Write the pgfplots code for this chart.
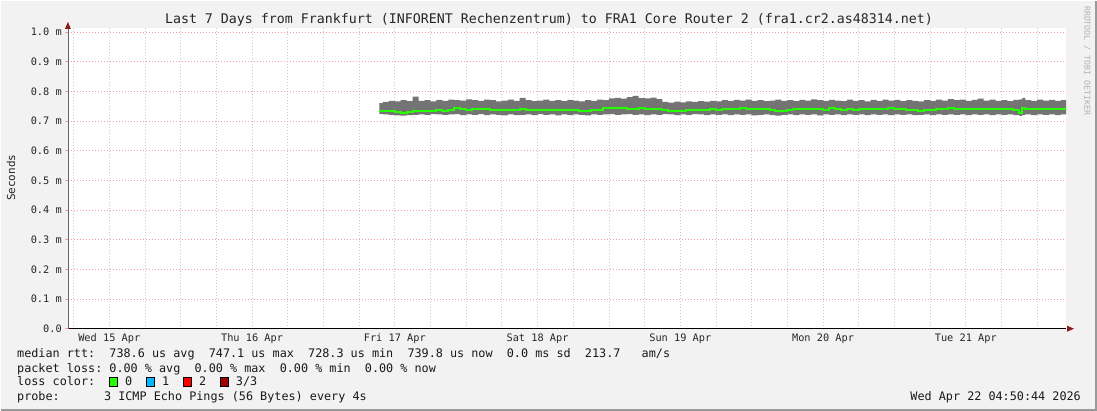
\documentclass[border=0pt]{standalone}
\usepackage{pgfplots}
\pgfplotsset{compat=1.18}
\usepgfplotslibrary{fillbetween}
\usepackage{pgfplotstable}
\usepackage{fontspec}
\setmainfont{DejaVu Sans Mono}
\newfontfamily\mono{DejaVu Sans Mono}
\definecolor{bg}{HTML}{F2F2F2}
\definecolor{smoke}{HTML}{747474}
\definecolor{med}{HTML}{26FF00}
\definecolor{mgrid}{HTML}{F2A0A0}
\definecolor{ggrid}{HTML}{C8C8C8}
\definecolor{arrowc}{HTML}{8B1A1A}
\definecolor{lblue}{HTML}{00B8FF}
\definecolor{lred}{HTML}{FF0000}
\definecolor{ldark}{HTML}{A00000}
\pgfplotstableread{
h u l m
33.4 .760 .724 .735
34 .764 .722 .734
35 .768 .721 .734
36 .766 .719 .729
37 .770 .718 .728
38 .767 .720 .731
39 .782 .721 .733
40 .768 .722 .735
41 .770 .721 .735
42 .766 .723 .735
43 .771 .722 .736
44 .768 .721 .735
45 .772 .722 .736
46 .770 .723 .744
47 .769 .720 .740
48 .773 .722 .738
49 .770 .721 .741
50 .768 .723 .739
51 .772 .720 .740
52 .770 .722 .738
53 .766 .721 .737
54 .769 .719 .738
55 .772 .722 .736
56 .768 .720 .737
57 .778 .721 .739
58 .770 .722 .737
59 .767 .720 .736
60 .769 .723 .737
61 .772 .721 .738
62 .768 .722 .736
63 .770 .719 .737
64 .767 .722 .738
65 .771 .720 .736
66 .769 .722 .737
67 .766 .721 .734
68 .770 .719 .732
69 .768 .722 .736
70 .772 .721 .738
71 .770 .722 .744
72 .776 .723 .745
73 .778 .721 .744
74 .775 .722 .745
75 .780 .723 .742
76 .785 .721 .741
77 .777 .722 .743
78 .776 .720 .740
79 .779 .722 .741
80 .774 .721 .739
81 .764 .723 .736
82 .762 .722 .735
83 .765 .720 .733
84 .763 .722 .734
85 .766 .721 .737
86 .764 .723 .738
87 .767 .722 .737
88 .765 .720 .738
89 .768 .722 .739
90 .766 .721 .738
91 .770 .722 .739
92 .768 .720 .740
93 .771 .722 .739
94 .769 .721 .743
95 .772 .722 .740
96 .768 .719 .739
97 .770 .721 .742
98 .767 .722 .740
99 .769 .720 .737
100 .772 .718 .733
101 .768 .721 .734
102 .770 .722 .738
103 .767 .720 .740
104 .771 .722 .739
105 .769 .721 .740
106 .773 .722 .739
107 .770 .719 .740
108 .768 .722 .738
109 .771 .721 .743
110 .769 .722 .740
111 .767 .720 .738
112 .772 .722 .739
113 .768 .721 .738
114 .770 .722 .739
115 .766 .720 .740
116 .771 .722 .739
117 .768 .721 .741
118 .772 .722 .742
119 .769 .720 .743
120 .771 .722 .740
121 .767 .721 .739
122 .770 .722 .738
123 .768 .720 .737
124 .766 .721 .735
125 .770 .722 .736
126 .768 .720 .738
127 .772 .722 .739
128 .769 .721 .741
129 .774 .722 .743
130 .770 .721 .742
131 .772 .722 .740
132 .768 .720 .740
133 .771 .722 .741
134 .775 .721 .742
135 .769 .722 .740
136 .772 .720 .739
137 .768 .722 .740
138 .770 .721 .739
139 .767 .722 .740
140 .771 .720 .738
141 .773 .717 .728
141.5 .778 .721 .743
142 .770 .722 .741
143 .768 .720 .740
144 .772 .722 .740
145 .769 .721 .741
146 .771 .722 .740
147 .768 .720 .739
148 .770 .722 .740
148.85 .770 .722 .740
}\rtt
\begin{document}
\frenchspacing
\begin{tikzpicture}[x=1pt,y=1pt]
\begin{axis}[
  set layers,
  at={(67pt,82pt)}, anchor=south west, scale only axis,
  width=999pt, height=301pt,
  xmin=-18.95, xmax=148.85, ymin=0, ymax=1.0135,
  axis x line*=bottom, axis y line*=left,
  x axis line style={black, line width=0.8pt},
  y axis line style={black!60, line width=0.8pt},
  ytick={0,0.1,0.2,0.3,0.4,0.5,0.6,0.7,0.8,0.9,1.0},
  yticklabels={0.0,0.1 m,0.2 m,0.3 m,0.4 m,0.5 m,0.6 m,0.7 m,0.8 m,0.9 m,1.0 m},
  xtick={-18,-12,-6,6,12,18,30,36,42,54,60,66,78,84,90,102,108,114,126,132,138},
  xticklabels={{},Wed 15 Apr,{},{},Thu 16 Apr,{},{},Fri 17 Apr,{},{},Sat 18 Apr,{},{},Sun 19 Apr,{},{},Mon 20 Apr,{},{},Tue 21 Apr,{}},
  extra x ticks={0,24,48,72,96,120,144},
  extra x tick labels={},
  extra x tick style={grid style={mgrid, dash pattern=on 1pt off 2pt, line width=0.8pt}, tick style={mgrid, line width=0.8pt}, major tick length=4pt},
  xtick style={draw=none},
  ytick style={mgrid, line width=0.8pt},
  tick align=outside, major tick length=3pt,
  xmajorgrids, ymajorgrids,
  x grid style={ggrid, dash pattern=on 1pt off 2pt, line width=0.8pt},
  y grid style={mgrid, dash pattern=on 1pt off 2pt, line width=0.8pt},
  ticklabel style={font=\mono\fontsize{10.3}{12}\selectfont, text=black!85},
  yticklabel style={inner sep=1pt, xshift=-2pt},
  xticklabel style={inner sep=1pt, yshift=-1pt},
  clip=false,
]
\begin{pgfonlayer}{axis background}
\fill[bg] ([shift={(-67pt,-82pt)}]rel axis cs:0,0) rectangle ([shift={(1030pt,328pt)}]rel axis cs:0,0);
\fill[white] (rel axis cs:0,0) rectangle (rel axis cs:1,1);
\end{pgfonlayer}
\addplot[draw=none, const plot, name path=U, forget plot] table[x=h,y=u] {\rtt};
\addplot[draw=none, const plot, name path=L, forget plot] table[x=h,y=l] {\rtt};
\addplot[smoke, forget plot] fill between[of=U and L];
\addplot[med, line width=2pt, const plot] table[x=h,y=m] {\rtt};
\end{axis}
\draw[line width=2pt, color=black!40] (0,1) -- (1096,1) -- (1096,410);
% axis arrows
\fill[arrowc] (67,389) -- (64,382) -- (70,382) -- cycle;
\fill[arrowc] (1074,82) -- (1067,85) -- (1067,79) -- cycle;
% title
\node[font=\mono\fontsize{13.3}{15}\selectfont, text=black!85] at (548.5,391) {Last 7 Days from Frankfurt (INFORENT Rechenzentrum) to FRA1 Core Router 2 (fra1.cr2.as48314.net)};
% y label
\node[font=\mono\fontsize{11}{13}\selectfont, rotate=90, text=black!85] at (10,233) {Seconds};
% watermark
\node[font=\mono\fontsize{8.3}{10}\selectfont, rotate=-90, text=black!30] at (1087,350) {RRDTOOL / TOBI OETIKER};
% legend
\begin{scope}[every node/.style={font=\mono\fontsize{11.8}{14}\selectfont, text=black!90, inner sep=0pt}]
\node[anchor=base west] at (16,53) {median rtt:~~738.6 us avg~~747.1 us max~~728.3 us min~~739.8 us now~~0.0 ms sd~~213.7~~~am/s};
\node[anchor=base west] at (16,38) {packet loss: 0.00 \% avg~~0.00 \% max~~0.00 \% min~~0.00 \% now};
\node[anchor=base west] at (16,25) {loss color:};
\node[anchor=base west] at (16,10) {probe:};
\node[anchor=base west] at (103,10) {3 ICMP Echo Pings (56 Bytes) every 4s};
\node[anchor=base east] at (1081,10) {Wed Apr 22 04:50:44 2026};
\foreach \xx/\cc/\tt in {108.5/med/0, 145.5/lblue/1, 182.5/lred/2, 219.5/ldark/3\slash 3}{
  \filldraw[fill=\cc, draw=black, line width=0.6pt] (\xx,24) rectangle ++(8,9.5);
  \node[anchor=base west] at (\xx+15.5,25) {\tt};
}
\end{scope}
\path[use as bounding box] (0,0) rectangle (1097,410);
\end{tikzpicture}
\end{document}
